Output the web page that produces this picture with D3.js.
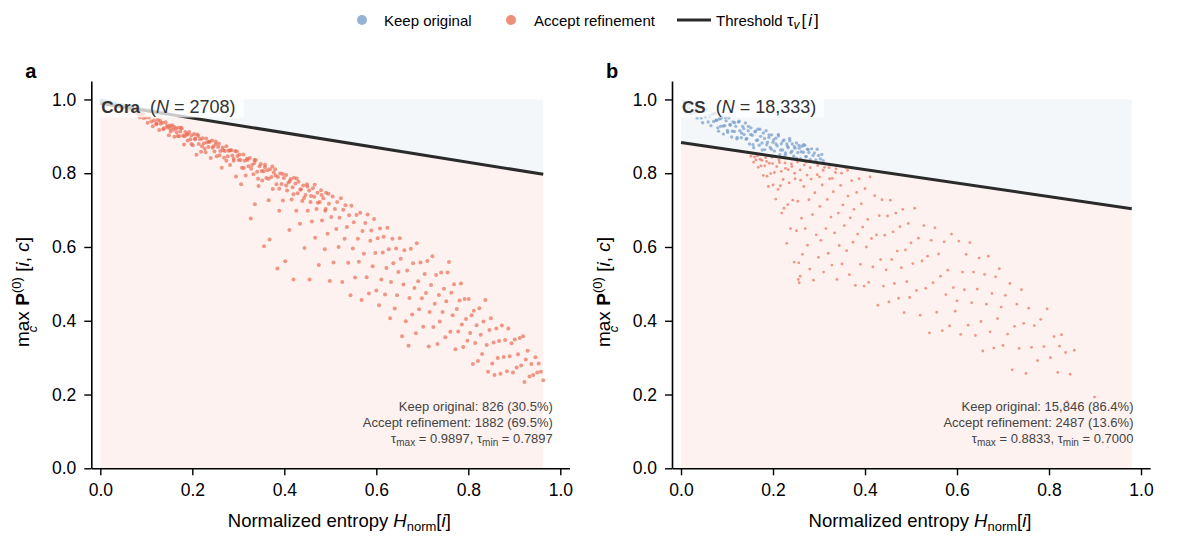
<!DOCTYPE html>
<meta charset="utf-8">
<script src="https://d3js.org/d3.v7.min.js"></script>
<style>
  body { margin: 0; background: #fff; }
  text { font-family: "Liberation Sans", Arial, sans-serif; }
</style>
<body>
<div id="chart"></div>
</body>
<script>

// ---- data ----
var xTicks = [0, 0.2, 0.4, 0.6, 0.8, 1.0];
var yTicks = [0, 0.2, 0.4, 0.6, 0.8, 1.0];

var coraTau = [0.9897, 0.7897];   // tau_max, tau_min
var csTau = [0.8833, 0.7000];
var coraHmax = 0.963;
var csHmax = 0.98;

var coraStats = ["Keep original: 826 (30.5%)", "Accept refinement: 1882 (69.5%)"];
var csStats = ["Keep original: 15,846 (86.4%)", "Accept refinement: 2487 (13.6%)"];

var coraKeep = [[0.002,0.998],[0.005,0.993],[0.008,0.996],[0.011,0.990],[0.014,0.995],[0.017,0.988],
  [0.020,0.993],[0.023,0.986],[0.026,0.991],[0.029,0.985],[0.032,0.989],[0.035,0.984],[0.038,0.987],
  [0.041,0.982],[0.044,0.985],[0.047,0.981],[0.050,0.984],[0.053,0.980],[0.056,0.982],[0.059,0.978],
  [0.062,0.980],[0.065,0.977],[0.068,0.979],[0.071,0.976],[0.074,0.977],[0.077,0.975],[0.080,0.976],
  [0.083,0.974],[0.086,0.974],[0.089,0.972],[0.092,0.973],[0.095,0.971],[0.098,0.972],[0.102,0.970],
  [0.106,0.970],[0.110,0.968],[0.114,0.968],[0.118,0.967],[0.122,0.966],[0.127,0.965],[0.132,0.964],
  [0.138,0.963],[0.145,0.962]];

var coraAccept = [[0.062,0.972],[0.074,0.968],[0.085,0.965],[0.093,0.962],
  [0.081,0.961],[0.086,0.952],[0.090,0.959],[0.094,0.950],[0.099,0.951],[0.103,0.937],[0.106,0.951],
  [0.111,0.940],[0.114,0.927],[0.117,0.943],[0.122,0.933],[0.125,0.944],[0.128,0.917],[0.131,0.934],
  [0.135,0.937],[0.138,0.922],[0.142,0.938],[0.146,0.924],[0.149,0.903],
  [0.151,0.929],[0.153,0.913],[0.156,0.930],[0.159,0.918],[0.161,0.899],[0.164,0.921],[0.166,0.911],
  [0.169,0.923],[0.172,0.900],[0.174,0.913],[0.177,0.922],[0.180,0.902],[0.182,0.878],[0.185,0.912],
  [0.188,0.904],[0.190,0.889],[0.193,0.912],[0.196,0.892],[0.198,0.903],[0.201,0.876],[0.204,0.906],
  [0.206,0.894],[0.209,0.850],[0.211,0.905],[0.214,0.879],[0.217,0.892],[0.219,0.858],[0.222,0.895],
  [0.225,0.881],[0.227,0.866],[0.230,0.894],[0.232,0.883],[0.235,0.871],[0.238,0.885],[0.240,0.841],
  [0.243,0.889],[0.246,0.873],[0.248,0.859],[0.251,0.879],[0.253,0.846],
  [0.256,0.871],[0.258,0.880],[0.261,0.860],[0.264,0.815],[0.266,0.870],[0.269,0.842],[0.271,0.860],
  [0.274,0.873],[0.277,0.846],[0.279,0.861],[0.282,0.822],[0.285,0.862],[0.287,0.848],[0.290,0.834],
  [0.293,0.860],[0.295,0.791],[0.298,0.847],[0.301,0.836],[0.303,0.850],[0.306,0.770],[0.308,0.815],
  [0.311,0.851],[0.314,0.834],[0.316,0.794],[0.319,0.839],[0.322,0.819],[0.325,0.841],[0.327,0.677],
  [0.330,0.822],[0.333,0.797],[0.335,0.828],[0.336,0.716],[0.338,0.836],[0.341,0.804],[0.344,0.765],
  [0.346,0.819],[0.349,0.825],[0.352,0.780],[0.355,0.805],[0.356,0.602],[0.358,0.823],[0.361,0.787],
  [0.363,0.808],[0.366,0.727],[0.368,0.620],[0.369,0.811],[0.372,0.790],[0.375,0.757],[0.377,0.802],
  [0.380,0.811],[0.383,0.770],[0.385,0.542],[0.386,0.790],[0.389,0.698],[0.391,0.799],[0.394,0.771],
  [0.397,0.726],[0.399,0.787],[0.402,0.561],
  [0.404,0.795],[0.406,0.753],[0.409,0.775],[0.411,0.646],[0.414,0.784],[0.416,0.729],[0.418,0.762],
  [0.420,0.512],[0.421,0.788],[0.424,0.772],[0.426,0.698],[0.429,0.746],[0.431,0.777],[0.434,0.663],
  [0.436,0.756],[0.439,0.725],[0.441,0.767],[0.444,0.597],[0.446,0.741],[0.449,0.770],[0.451,0.698],
  [0.454,0.753],[0.455,0.512],[0.457,0.722],[0.460,0.669],[0.462,0.759],[0.465,0.736],[0.467,0.625],
  [0.470,0.703],[0.472,0.747],[0.475,0.551],[0.477,0.722],[0.480,0.754],[0.482,0.672],[0.485,0.732],
  [0.488,0.594],[0.490,0.703],[0.491,0.747],[0.494,0.636],[0.497,0.717],[0.499,0.508],[0.502,0.681],
  [0.505,0.737],[0.507,0.558],[0.510,0.703],[0.513,0.649],[0.515,0.722],[0.518,0.600],[0.520,0.679],
  [0.523,0.732],[0.526,0.505],[0.528,0.701],[0.531,0.622],[0.533,0.713],[0.536,0.654],[0.539,0.557],
  [0.541,0.686],[0.544,0.469],[0.546,0.712],[0.549,0.596],[0.551,0.667],
  [0.554,0.517],[0.557,0.687],[0.560,0.622],[0.562,0.560],[0.565,0.693],[0.568,0.456],[0.570,0.643],
  [0.573,0.582],[0.576,0.665],[0.579,0.518],[0.581,0.688],[0.584,0.474],[0.587,0.617],[0.589,0.645],
  [0.592,0.548],[0.595,0.676],[0.598,0.584],[0.600,0.482],[0.603,0.624],[0.606,0.442],[0.608,0.650],
  [0.611,0.512],[0.614,0.585],[0.616,0.628],[0.619,0.471],[0.622,0.543],[0.624,0.652],[0.627,0.594],
  [0.630,0.407],[0.632,0.505],[0.635,0.622],[0.637,0.556],[0.640,0.433],[0.643,0.596],[0.645,0.469],
  [0.648,0.532],[0.651,0.624],[0.653,0.568],[0.656,0.358],[0.659,0.498],[0.661,0.591],[0.664,0.399],
  [0.667,0.536],[0.670,0.332],[0.672,0.462],[0.675,0.595],[0.678,0.417],[0.680,0.556],[0.683,0.489],
  [0.686,0.366],[0.688,0.610],[0.691,0.507],[0.693,0.431],[0.696,0.558],[0.699,0.461],
  [0.702,0.384],[0.705,0.527],[0.708,0.475],[0.711,0.562],[0.714,0.330],[0.716,0.424],[0.719,0.497],
  [0.722,0.575],[0.724,0.383],[0.727,0.446],[0.730,0.524],[0.733,0.337],[0.736,0.470],[0.738,0.398],
  [0.741,0.531],[0.744,0.424],[0.747,0.487],[0.750,0.355],[0.752,0.453],[0.755,0.531],[0.758,0.559],
  [0.761,0.370],[0.763,0.476],[0.766,0.415],[0.769,0.499],[0.772,0.323],[0.775,0.432],[0.778,0.371],
  [0.781,0.455],[0.784,0.501],[0.786,0.390],[0.789,0.329],[0.792,0.459],[0.795,0.405],[0.798,0.346],
  [0.801,0.459],[0.804,0.367],[0.807,0.415],[0.810,0.283],[0.812,0.427],[0.815,0.340],[0.818,0.388],
  [0.821,0.291],[0.824,0.434],[0.827,0.362],[0.830,0.310],[0.833,0.398],[0.837,0.456],[0.840,0.334],
  [0.843,0.262],[0.846,0.375],[0.849,0.407],[0.852,0.284],[0.855,0.341],[0.857,0.253],[0.861,0.379],
  [0.864,0.299],[0.867,0.345],[0.870,0.256],[0.873,0.387],[0.877,0.302],[0.880,0.348],[0.884,0.263],
  [0.887,0.379],[0.890,0.304],[0.894,0.339],[0.897,0.260],[0.901,0.349],[0.905,0.273],[0.908,0.309],
  [0.912,0.353],[0.915,0.279],[0.919,0.358],[0.922,0.234],[0.925,0.295],[0.929,0.319],[0.933,0.249],
  [0.937,0.283],[0.941,0.253],[0.946,0.301],[0.950,0.260],[0.953,0.284],[0.958,0.262],[0.963,0.239],
  [0.122,0.935],[0.130,0.942],[0.137,0.919],[0.145,0.929],[0.152,0.921],[0.160,0.926],[0.168,0.901],
  [0.175,0.923],[0.183,0.900],[0.190,0.906],[0.198,0.879],[0.206,0.892],[0.213,0.901],[0.221,0.873],
  [0.229,0.857],[0.236,0.885],[0.244,0.869],[0.251,0.886],[0.259,0.849],[0.267,0.862],[0.274,0.834],
  [0.282,0.862],[0.290,0.839],[0.297,0.859],[0.305,0.836],[0.312,0.814],[0.320,0.836],[0.328,0.812],
  [0.335,0.836],[0.343,0.785],[0.351,0.806],[0.358,0.816],[0.366,0.785],[0.374,0.818],[0.381,0.794],
  [0.389,0.758],[0.397,0.798],[0.404,0.767],[0.412,0.779],[0.420,0.743],[0.427,0.786],[0.435,0.756],
  [0.443,0.733],[0.450,0.764],[0.458,0.738],[0.466,0.769],[0.473,0.720],[0.481,0.741],[0.489,0.698],
  [0.496,0.744]];

var csKeep = [[0.003,0.980],[0.006,0.995],[0.009,0.966],[0.012,0.983],[0.016,0.976],[0.019,0.986],
  [0.022,0.961],[0.025,0.988],[0.029,0.965],[0.032,0.975],[0.035,0.950],[0.038,0.966],[0.041,0.977],
  [0.044,0.950],[0.047,0.937],[0.050,0.967],[0.053,0.953],[0.056,0.973],[0.059,0.939],[0.062,0.955],
  [0.065,0.929],[0.068,0.960],[0.071,0.940],[0.074,0.962],[0.077,0.943],[0.080,0.923],[0.083,0.947],
  [0.086,0.927],[0.089,0.953],[0.092,0.906],[0.095,0.929],[0.098,0.942],[0.101,0.916],[0.104,0.950],
  [0.107,0.930],[0.110,0.898],[0.113,0.939],[0.116,0.913],[0.119,0.927],[0.122,0.897],[0.125,0.939],
  [0.128,0.915],[0.131,0.896],[0.134,0.927],[0.137,0.905],[0.140,0.936],[0.143,0.894],[0.146,0.915],
  [0.149,0.879],[0.152,0.923],[0.155,0.903],[0.158,0.869],[0.161,0.912],[0.164,0.889],[0.167,0.919],
  [0.170,0.876],[0.173,0.900],[0.176,0.882],[0.179,0.909],[0.182,0.864],[0.185,0.915],[0.188,0.884],
  [0.191,0.897],[0.194,0.870],[0.197,0.904],[0.200,0.884],[0.203,0.860],[0.206,0.895],[0.209,0.874],
  [0.212,0.901],[0.215,0.850],[0.218,0.880],[0.221,0.863],[0.224,0.890],[0.227,0.855],[0.230,0.879],
  [0.233,0.869],[0.236,0.894],[0.239,0.856],[0.242,0.879],[0.245,0.846],[0.248,0.868],[0.251,0.882],
  [0.254,0.856],[0.257,0.868],[0.260,0.839],[0.263,0.873],[0.266,0.857],[0.269,0.876],[0.272,0.845],
  [0.275,0.865],[0.278,0.856],[0.281,0.837],[0.284,0.866],[0.287,0.848],[0.290,0.855],[0.293,0.836],
  [0.296,0.865],[0.299,0.848],[0.303,0.839],[0.306,0.851],[0.309,0.834],
  [0.0715,0.961],[0.0765,0.944],[0.0815,0.914],[0.0865,0.948],[0.0915,0.928],[0.0965,0.951],
  [0.1015,0.911],[0.1065,0.932],[0.1115,0.914],[0.1165,0.937],[0.1215,0.893],[0.1265,0.941],
  [0.1315,0.909],[0.1365,0.921],[0.1415,0.892],[0.1465,0.927],[0.1515,0.905],[0.1565,0.877],
  [0.1615,0.914],[0.1665,0.890],[0.1715,0.919],[0.1765,0.863],[0.1815,0.894],[0.1865,0.877],
  [0.1915,0.904],[0.1965,0.865],[0.2015,0.891],[0.2065,0.879],[0.2115,0.905],[0.2165,0.863],
  [0.2215,0.887],[0.2265,0.849],[0.2315,0.873],[0.2365,0.888],[0.2415,0.860],[0.2465,0.872],
  [0.2515,0.840],[0.2565,0.875],[0.2615,0.858],[0.2665,0.877],[0.2715,0.845],[0.2765,0.864]];

var csAccept = [[0.152,0.846],[0.155,0.854],[0.158,0.830],[0.160,0.844],[0.163,0.836],[0.166,0.847],
  [0.168,0.816],[0.171,0.851],[0.174,0.820],[0.176,0.835],[0.179,0.794],[0.182,0.820],[0.184,0.842],
  [0.187,0.792],[0.190,0.764],[0.192,0.827],[0.195,0.799],[0.198,0.843],[0.200,0.768],[0.203,0.802],
  [0.206,0.730],[0.208,0.818],[0.211,0.756],[0.214,0.829],[0.216,0.766],[0.219,0.692],[0.222,0.783],
  [0.224,0.705],[0.227,0.813],[0.230,0.610],[0.232,0.715],[0.235,0.774],[0.238,0.650],[0.240,0.825],
  [0.243,0.727],[0.246,0.559],[0.248,0.785],[0.251,0.644],[0.254,0.724],[0.256,0.557],[0.259,0.809],
  [0.262,0.678],[0.264,0.580],[0.267,0.764],[0.270,0.650],[0.272,0.830],[0.275,0.605],[0.278,0.728],
  [0.280,0.540],[0.283,0.784],[0.286,0.688],[0.288,0.510],[0.291,0.747],[0.294,0.633],[0.296,0.796],
  [0.299,0.572],[0.302,0.710],[0.304,0.618],[0.307,0.768],[0.310,0.532],[0.312,0.816],[0.315,0.650],
  [0.318,0.729],[0.320,0.583],[0.323,0.785],[0.326,0.681],[0.328,0.551],[0.331,0.750],[0.334,0.638],
  [0.336,0.802],[0.339,0.512],[0.342,0.692],[0.344,0.604],[0.347,0.767],[0.350,0.554],[0.352,0.714],
  [0.355,0.658],[0.358,0.815],[0.360,0.590],[0.363,0.738],[0.366,0.525],[0.368,0.679],[0.371,0.780],
  [0.374,0.613],[0.376,0.702],[0.379,0.496],[0.382,0.748],[0.384,0.635],[0.387,0.785],[0.390,0.553],
  [0.392,0.717],[0.395,0.654],[0.398,0.494],[0.400,0.758],[0.403,0.600],[0.406,0.675],[0.408,0.504],
  [0.411,0.790],[0.414,0.623],[0.417,0.546],
  [0.172,0.838],[0.186,0.832],[0.199,0.826],[0.213,0.836],[0.226,0.828],[0.241,0.818],[0.253,0.831],
  [0.268,0.822],[0.281,0.815],[0.297,0.821],[0.309,0.808],[0.322,0.815],[0.337,0.812],[0.349,0.800],
  [0.362,0.808],[0.218,0.805],[0.247,0.800],[0.274,0.795],[0.301,0.790],[0.329,0.786],[0.233,0.810],
  [0.260,0.781],[0.255,0.512],[0.257,0.503],[0.259,0.521],
  [0.421,0.739],[0.425,0.633],[0.428,0.442],[0.431,0.685],[0.434,0.566],[0.437,0.728],[0.440,0.494],
  [0.443,0.632],[0.446,0.538],[0.449,0.684],[0.452,0.451],[0.455,0.727],[0.458,0.566],[0.461,0.641],
  [0.464,0.501],[0.467,0.692],[0.470,0.589],[0.473,0.461],[0.476,0.655],[0.479,0.544],[0.482,0.702],
  [0.485,0.422],[0.488,0.592],[0.491,0.506],[0.494,0.664],[0.497,0.463],[0.500,0.611],[0.504,0.555],
  [0.508,0.705],[0.512,0.482],[0.516,0.624],[0.520,0.415],[0.524,0.562],[0.528,0.658],[0.532,0.488],
  [0.536,0.575],[0.540,0.367],[0.544,0.618],[0.548,0.503],[0.552,0.652],[0.556,0.423],[0.560,0.581],
  [0.564,0.521],[0.568,0.373],[0.572,0.614],[0.576,0.471],[0.580,0.537],[0.584,0.386],[0.588,0.635],
  [0.592,0.490],[0.596,0.426],[0.600,0.454],[0.604,0.616],[0.608,0.363],[0.612,0.532],[0.616,0.484],
  [0.620,0.580],[0.624,0.388],[0.628,0.612],[0.632,0.449],[0.636,0.532],[0.640,0.360],[0.644,0.486],
  [0.648,0.570],[0.652,0.398],[0.656,0.318],[0.660,0.526],[0.664,0.445],[0.668,0.575],[0.672,0.370],
  [0.676,0.474],[0.680,0.326],[0.684,0.519],[0.688,0.406],[0.692,0.541],[0.696,0.437],[0.700,0.333],
  [0.705,0.469],[0.710,0.364],[0.715,0.501],[0.720,0.267],[0.725,0.385],[0.730,0.445],[0.735,0.325],
  [0.740,0.484],[0.745,0.393],[0.750,0.257],[0.756,0.434],[0.762,0.328],[0.768,0.387],[0.775,0.292],
  [0.782,0.404],[0.789,0.330],[0.796,0.432],[0.803,0.300],[0.811,0.357],[0.819,0.260],[0.827,0.362],
  [0.836,0.314],[0.846,0.255],[0.855,0.320],[0.823,0.331],[0.839,0.180],[0.899,0.193]];

// ---- drawing ----
var W = 1179, H = 543;
var svg = d3.select("#chart").append("svg")
  .attr("width", W).attr("height", H);

var keepColor = "#6f97c5", acceptColor = "#e8644b", lineColor = "#2a2a2a";

function drawPanel(opt) {
  var x = d3.scaleLinear().domain([-0.0196, 1.02]).range([opt.left, opt.left + 478.2]);
  var y = d3.scaleLinear().domain([0, 1.05]).range([468.3, 81]);
  var g = svg.append("g");

  var gFill = g.append("g"), gPts = g.append("g"), gLine = g.append("g"),
      gBox = g.append("g"), gText = g.append("g");

  var tau = function(h) { return opt.tau[0] - (opt.tau[0] - opt.tau[1]) * h; };
  var hs = [0, opt.hmax];

  // shaded regions above / below the threshold
  gFill.append("path")
    .attr("d", d3.area().x(function(d){ return x(d); }).y0(y(1)).y1(function(d){ return y(tau(d)); })(hs))
    .attr("fill", "#f4f7fa");
  gFill.append("path")
    .attr("d", d3.area().x(function(d){ return x(d); }).y0(y(0)).y1(function(d){ return y(tau(d)); })(hs))
    .attr("fill", "#fdf2f0");

  gPts.selectAll(".k").data(opt.keep).join("circle")
    .attr("cx", function(d){ return x(d[0]); }).attr("cy", function(d){ return y(d[1]); })
    .attr("r", opt.rk).attr("fill", keepColor).attr("fill-opacity", opt.op);
  gPts.selectAll(".a").data(opt.accept).join("circle")
    .attr("cx", function(d){ return x(d[0]); }).attr("cy", function(d){ return y(d[1]); })
    .attr("r", opt.r).attr("fill", acceptColor).attr("fill-opacity", opt.op);

  gLine.append("path")
    .attr("d", d3.line().x(function(d){ return x(d); }).y(function(d){ return y(tau(d)); })(hs))
    .attr("stroke", lineColor).attr("stroke-width", 3).attr("fill", "none");

  // axes
  var xa = g.append("g").attr("transform", "translate(0," + y(0) + ")")
    .call(d3.axisBottom(x).tickValues(xTicks).tickFormat(d3.format(".1f"))
      .tickSize(7).tickPadding(8).tickSizeOuter(0));
  var ya = g.append("g").attr("transform", "translate(" + opt.left + ",0)")
    .call(d3.axisLeft(y).tickValues(yTicks).tickFormat(d3.format(".1f"))
      .tickSize(7).tickPadding(8).tickSizeOuter(0));
  [xa, ya].forEach(function(a) {
    a.select(".domain").attr("stroke", "#000").attr("stroke-width", 1.6);
    a.selectAll(".tick line").attr("stroke", "#000").attr("stroke-width", 1.4);
    a.selectAll(".tick text").attr("font-size", 17.5).attr("fill", "#000")
      .attr("font-family", "Liberation Sans, Arial, sans-serif");
  });

  // title box
  var t = gText.append("text").attr("x", x(0) + 1).attr("y", 112.5)
    .attr("font-size", 17).attr("fill", "#333");
  t.append("tspan").attr("font-weight", "bold").text(opt.name);
  t.append("tspan").attr("font-size", 18).text("\u00a0\u00a0(");
  t.append("tspan").attr("font-size", 18).attr("font-style", "italic").text("N");
  t.append("tspan").attr("font-size", 18).attr("dx", 5).text("=");
  t.append("tspan").attr("font-size", 18).attr("dx", 5).text(opt.n + ")");
  var bb = t.node().getBBox();
  gBox.append("rect").attr("x", bb.x - 4).attr("y", bb.y - 1)
    .attr("width", bb.width + 12).attr("height", bb.height + 2)
    .attr("fill", "#fff").attr("fill-opacity", 0.75);

  // stats
  var sx = opt.left + 461.5;
  opt.stats.forEach(function(s, i) {
    gText.append("text").attr("x", sx).attr("y", 411 + i * 16)
      .attr("text-anchor", "end").attr("font-size", 13).attr("fill", "#444").text(s);
  });
  var tt = gText.append("text").attr("x", sx).attr("y", 443)
    .attr("text-anchor", "end").attr("font-size", 13).attr("fill", "#444");
  tt.append("tspan").text("\u03c4");
  tt.append("tspan").attr("font-size", 10).attr("dy", 3).text("max");
  tt.append("tspan").attr("dy", -3).text(" = " + opt.tau[0].toFixed(4) + ", \u03c4");
  tt.append("tspan").attr("font-size", 10).attr("dy", 3).text("min");
  tt.append("tspan").attr("dy", -3).text(" = " + opt.tau[1].toFixed(4));

  // axis labels
  var cx = opt.left + 248;
  var xl = g.append("text").attr("x", cx).attr("y", 527).attr("text-anchor", "middle")
    .attr("font-size", 18.5);
  xl.append("tspan").text("Normalized entropy ");
  xl.append("tspan").attr("font-style", "italic").text("H");
  xl.append("tspan").attr("font-size", 13).attr("dy", 4).text("norm");
  xl.append("tspan").attr("dy", -4).text("[");
  xl.append("tspan").attr("font-style", "italic").text("i");
  xl.append("tspan").text("]");

  var yl = g.append("text")
    .attr("transform", "translate(" + (opt.left - 62) + ",292) rotate(-90)")
    .attr("text-anchor", "middle").attr("font-size", 19);
  yl.append("tspan").text("max");
  yl.append("tspan").attr("font-size", 13).attr("font-style", "italic")
    .attr("dx", -21).attr("dy", 8).text("c");
  yl.append("tspan").attr("dx", 20).attr("dy", -8).attr("font-weight", "bold").text("P");
  yl.append("tspan").attr("font-size", 13).attr("dy", -8).text("(0)");
  yl.append("tspan").attr("dy", 8).text("\u00a0[");
  yl.append("tspan").attr("font-style", "italic").text("i");
  yl.append("tspan").text(", ");
  yl.append("tspan").attr("font-style", "italic").text("c");
  yl.append("tspan").text("]");

  svg.append("text").attr("x", opt.left - 66).attr("y", 78)
    .attr("font-size", 20).attr("font-weight", "bold").text(opt.letter);
}

drawPanel({ left: 91.3, letter: "a", name: "Cora", n: "2708", tau: coraTau, hmax: coraHmax,
  keep: coraKeep, accept: coraAccept, stats: coraStats, r: 2, rk: 2, op: 0.65 });
drawPanel({ left: 672, letter: "b", name: "CS", n: "18,333", tau: csTau, hmax: csHmax,
  keep: csKeep, accept: csAccept, stats: csStats, r: 1.4, rk: 1.7, op: 0.65 });

// legend
var lg = svg.append("g");
lg.append("circle").attr("cx", 362).attr("cy", 20).attr("r", 5).attr("fill", "#93b2d4");
lg.append("text").attr("x", 384).attr("y", 25.5).attr("font-size", 15).text("Keep original");
lg.append("circle").attr("cx", 511).attr("cy", 20).attr("r", 5).attr("fill", "#ef8e79");
lg.append("text").attr("x", 534).attr("y", 25.5).attr("font-size", 15).text("Accept refinement");
lg.append("line").attr("x1", 677).attr("x2", 711).attr("y1", 20).attr("y2", 20)
  .attr("stroke", lineColor).attr("stroke-width", 3);
var lt = lg.append("text").attr("x", 716).attr("y", 25.5).attr("font-size", 15);
lt.append("tspan").text("Threshold ");
lt.append("tspan").attr("font-size", 17).text("\u03c4");
lt.append("tspan").attr("font-size", 12).attr("font-style", "italic").attr("dy", 3).text("v");
lt.append("tspan").attr("font-size", 17).attr("dy", -3).attr("dx", 2).text("[");
lt.append("tspan").attr("font-size", 17).attr("font-style", "italic").attr("dx", 2).text("i");
lt.append("tspan").attr("font-size", 17).attr("dx", 2).text("]");

</script>
